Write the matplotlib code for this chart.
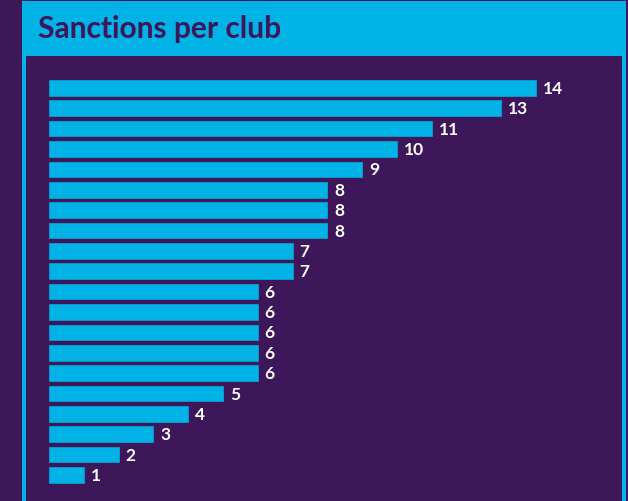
import matplotlib
matplotlib.use("Agg")
import matplotlib.pyplot as plt
from matplotlib.patches import Rectangle

title = "Sanctions per club"
values = [14, 13, 11, 10, 9, 8, 8, 8, 7, 7, 6, 6, 6, 6, 6, 5, 4, 3, 2, 1]
value_labels = [str(v) for v in values]

PURPLE = "#3d1759"
CYAN = "#00b2e5"

W, H = 628, 502
fig = plt.figure(figsize=(W / 100, H / 100), dpi=100)
fig.patch.set_facecolor(PURPLE)

def px_rect(x0, y0, x1, y1, color):
    # pixel coords from top-left
    fig.patches.append(Rectangle((x0 / W, 1 - y1 / H), (x1 - x0) / W, (y1 - y0) / H,
                                 transform=fig.transFigure, facecolor=color,
                                 edgecolor="none", zorder=-5))

px_rect(22, 2, 626, 510, CYAN)
px_rect(26, 57, 622, 510, PURPLE)

fig.text(38 / W, 1 - 29.5 / H, title, fontsize=21.5, fontweight="bold",
         family=["Lato", "DejaVu Sans"], color=PURPLE, va="center", ha="left")

ax = fig.add_axes([49 / W, 15.8 / H, 556.6 / W, 407.5 / H])
ax.set_zorder(5)
ax.set_facecolor("none")
y = list(range(len(values)))
ax.barh(y, values, height=0.77, color=CYAN, edgecolor="#0a9fd0", linewidth=0.6)
ax.set_xlim(0, 16)
ax.set_ylim(len(values) - 0.5, -0.5)
for yi, v, lab in zip(y, values, value_labels):
    ax.annotate(lab, (v, yi), xytext=(5, 0), textcoords="offset points",
                ha="left", va="center", color="white", fontsize=12.5,
                fontweight="bold", family=["Lato", "DejaVu Sans"])
ax.axis("off")

fig.savefig("out.png", dpi=100, facecolor=PURPLE)
